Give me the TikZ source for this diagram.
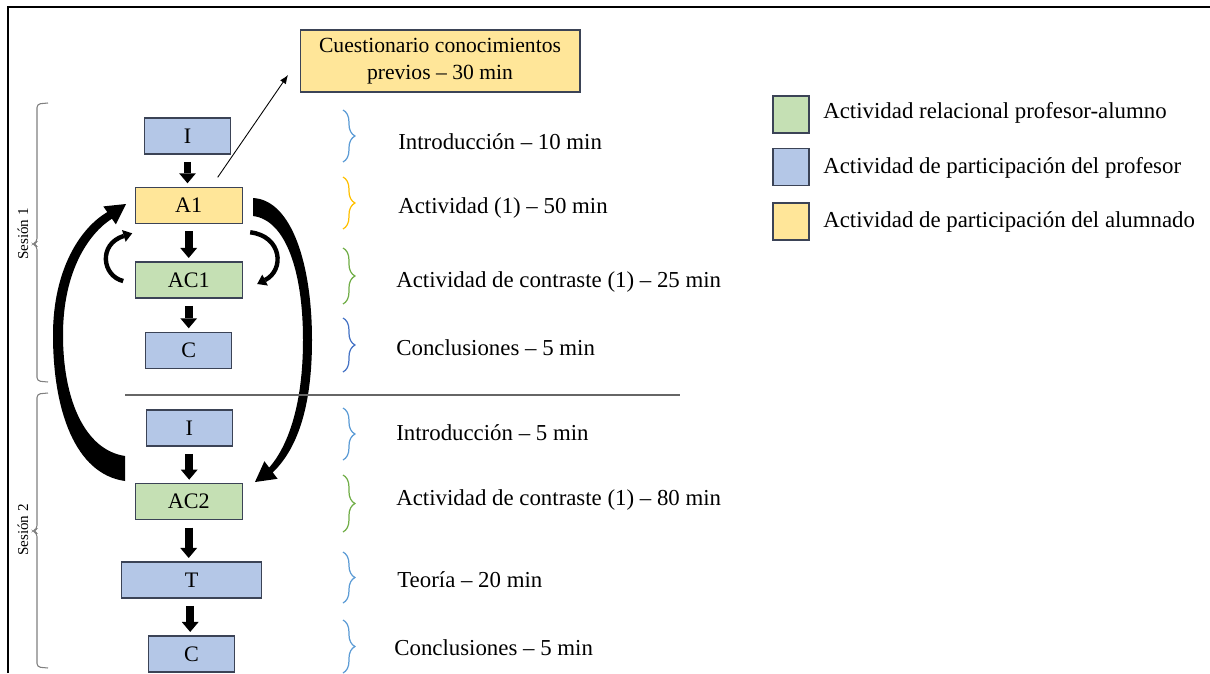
\documentclass[tikz,border=0pt]{standalone}
\usepackage{fontspec}
\setmainfont{Liberation Serif}
\usetikzlibrary{arrows.meta,calc,decorations.pathreplacing}
\definecolor{azul}{HTML}{B4C7E7}
\definecolor{amarillo}{HTML}{FFE699}
\definecolor{verde}{HTML}{C5E0B4}
\definecolor{borde}{HTML}{3B4356}
\definecolor{llaveazul}{HTML}{5B9BD5}
\definecolor{llaveoscura}{HTML}{4472C4}
\definecolor{llavenaranja}{HTML}{FFC000}
\definecolor{llaveverde}{HTML}{70AD47}

\begin{document}
\begin{tikzpicture}[x=0.02cm, y=-0.02cm,
  caja/.style={draw=borde, line width=0.6pt, inner sep=0pt, outer sep=0pt, minimum height=0.72cm, font=\fontsize{12.6}{15}\selectfont},
  ancha/.style={caja, minimum width=2.14cm},
  estrecha/.style={caja, minimum width=1.72cm},
  flecha/.style={line width=4.5pt, -{Triangle[width=9.6pt,length=5.7pt,line width=0pt]}, shorten <=4.5pt, shorten >=2.3pt},
  llave/.style={decorate, decoration={brace, amplitude=6.8pt}, line width=0.7pt},
  etiqueta/.style={anchor=west, inner sep=0pt, font=\fontsize{13}{16}\selectfont},
  sesion/.style={rotate=90, inner sep=0pt, font=\fontsize{8.6}{10}\selectfont}]

\useasboundingbox (0,0) rectangle (1210,673);
\draw[line width=1.3pt] (8,673) -- (8,7) -- (1210,7);

\node[estrecha, fill=azul] (i1) at (187.5,136) {I};
\node[ancha, fill=amarillo] (a1) at (188.7,205.3) {A1};
\node[ancha, fill=verde] (ac1) at (188.7,280) {AC1};
\node[estrecha, fill=azul] (c1) at (188.8,350.3) {C};
\node[estrecha, fill=azul] (i2) at (189.2,428) {I};
\node[ancha, fill=verde] (ac2) at (188.7,501.7) {AC2};
\node[caja, fill=azul, minimum width=2.8cm] (t2) at (191.7,580) {T};
\node[estrecha, fill=azul] (c2) at (191.5,654) {C};

\node[caja, fill=amarillo, minimum width=5.6cm, minimum height=1.24cm, align=center, font=\fontsize{12.3}{15.3}\selectfont] (cuest) at (440,61) {Cuestionario conocimientos\\previos -- 30 min};

\draw[flecha] (i1.south) -- (i1.south |- a1.north);
\draw[flecha] (a1.south) -- (a1.south |- ac1.north);
\draw[flecha] (ac1.south) -- (ac1.south |- c1.north);
\draw[flecha] (i2.south) -- (i2.south |- ac2.north);
\draw[flecha] (ac2.south) -- (ac2.south |- t2.north);
\draw[flecha] ($(t2.south)+(-1.5,0)$) -- ($(t2.south |- c2.north)+(-1.5,0)$);

\draw[line width=0.5pt, -{Latex[length=5pt,width=4pt]}] ($(a1.north)+(29,-10)$) -- ($(cuest.south west)+(-12,-17)$);

\fill (125,481) .. controls (75,474) and (53,410) .. (53,335) .. controls (53,270) and (80,228) .. (107.3,212.1) -- (103.3,206.4) -- (126,204) -- (115.9,224.4) -- (111.9,218.7) .. controls (88,234) and (63,272) .. (63,335) .. controls (63,400) and (85,450) .. (125,456) -- cycle;
\fill (253,198) .. controls (292,200) and (312,265) .. (312,340) .. controls (312,410) and (296,450) .. (272.8,472.4) -- (277.6,478.8) -- (255,482) -- (264.4,461.2) -- (269.2,467.6) .. controls (288,446) and (303,405) .. (303,340) .. controls (303,272) and (286,220) .. (253,216) -- cycle;

\draw[line width=2.5pt, -{Triangle[width=7pt,length=5pt,line width=0pt]}] ($(ac1.west)+(-12,1)$) .. controls (102,276) and (98,244) .. ($(a1.south west)+(-3,10)$);
\draw[line width=2.5pt, -{Triangle[width=7pt,length=5pt,line width=0pt]}] ($(a1.south east)+(8,9)$) .. controls (282,236) and (285,270) .. ($(ac1.east)+(15,4)$);

\draw[gray!80!black, line width=0.6pt] (125,395) -- (680,395);

\draw[gray, line width=0.6pt, rounded corners=2pt] (48,103) -- (37,104) -- (37,242) -- (33,244) -- (37,246) -- (37,381) -- (48,382);
\draw[gray, line width=0.6pt, rounded corners=2pt] (48,393) -- (37,394) -- (37,529) -- (33,531) -- (37,533) -- (37,667) -- (48,668);
\node[sesion] (ses1) at (23,234) {Sesión 1};
\node[sesion] (ses2) at (23,530) {Sesión 2};

\draw[llave, llaveazul] (343,110) -- (343,162);
\draw[llave, llavenaranja] (343,177) -- (343,229);
\draw[llave, llaveverde] (343,248) -- (343,304);
\draw[llave, llaveoscura] (343,318) -- (343,372);
\draw[llave, llaveazul] (343,408) -- (343,460);
\draw[llave, llaveverde] (343,475) -- (343,532);
\draw[llave, llaveazul] (343,552) -- (343,603);
\draw[llave, llaveazul] (343,620) -- (343,673);

\node[etiqueta] (tintro1) at (398,142) {Introducción -- 10 min};
\node[etiqueta] (tact1) at (398,208) {Actividad (1) -- 50 min};
\node[etiqueta] (tcon1) at (396,282) {Actividad de contraste (1) -- 25 min};
\node[etiqueta] (tconc1) at (396,348) {Conclusiones -- 5 min};
\node[etiqueta] (tintro2) at (396,433) {Introducción -- 5 min};
\node[etiqueta] (tcon2) at (396,500) {Actividad de contraste (1) -- 80 min};
\node[etiqueta] (tteo2) at (397,580) {Teoría -- 20 min};
\node[etiqueta] (tconc2) at (394,648) {Conclusiones -- 5 min};

\node[caja, fill=verde, minimum width=0.72cm, minimum height=0.74cm] (cverde) at (791,114.5) {};
\node[caja, fill=azul, minimum width=0.72cm, minimum height=0.74cm] (cazul) at (791,167) {};
\node[caja, fill=amarillo, minimum width=0.72cm, minimum height=0.74cm] (camar) at (791,221.5) {};
\node[etiqueta] (lrel) at (823,113) {Actividad relacional profesor-alumno};
\node[etiqueta] (lprof) at (823,168) {Actividad de participación del profesor};
\node[etiqueta] (lalum) at (823,222) {Actividad de participación del alumnado};

\end{tikzpicture}
\end{document}
